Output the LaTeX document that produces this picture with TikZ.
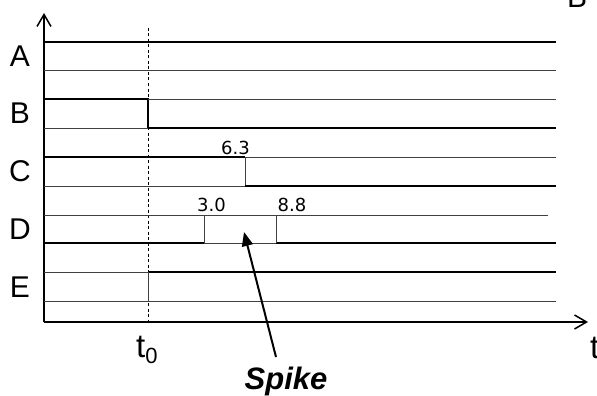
\documentclass[tikz,border=0pt]{standalone}
\usepackage{fontspec}
\setmainfont{Liberation Sans}
\newfontfamily\numfont{DejaVu Sans}
\usepackage{tikz}
\usetikzlibrary{arrows.meta,positioning}

\begin{document}
\begin{tikzpicture}[x=1pt, y=-1pt, >={Straight Barb[length=12pt,width=14pt,line width=1.5pt]}]
    % Styles
    \tikzstyle{hi} = [line width=2pt, black]
    \tikzstyle{lo} = [line width=1pt, black!75]
    \tikzstyle{sig} = [font=\fontsize{30}{32}\selectfont, inner sep=0pt]
    \tikzstyle{tick} = [font=\fontsize{33}{35}\selectfont, inner sep=0pt]
    \tikzstyle{val} = [font=\numfont\fontsize{18}{20}\selectfont, inner sep=0pt]

    \useasboundingbox (0,0) rectangle (597,396);

    % Axes
    \coordinate (origin) at (44, 322);
    \coordinate (ytop) at (44, 13);
    \coordinate (xend) at (588, 322);
    \draw[->, line width=2pt] (origin) -- (ytop);
    \draw[->, line width=2pt] (origin) -- (xend);
    \node[tick, anchor=base west] (tlabel) at (590, 358) {t};
    \node[sig, anchor=center] (cutB) at (577, -3) {B};

    % t0 marker
    \draw[dashed, dash pattern=on 3pt off 2.5pt, line width=0.8pt] (148, 28) -- (148, 322);
    \node[tick, anchor=base west] (tzero) at (136, 357) {t\raisebox{-6pt}{\fontsize{22}{22}\selectfont 0}};

    % Signal labels
    \node[sig] (lblA) at (20, 56) {A};
    \node[sig] (lblB) at (20, 113) {B};
    \node[sig] (lblC) at (20, 171) {C};
    \node[sig] (lblD) at (20, 229) {D};
    \node[sig] (lblE) at (20, 287) {E};

    % A (high)
    \draw[hi] (44, 42.3) -- (556, 42.3);
    \draw[lo] (44, 70.7) -- (556, 70.7);

    % B (falls at t0)
    \draw[hi] (44, 99.3) -- (148, 99.3) -- (148, 128) -- (556, 128);
    \draw[lo] (148, 99.3) -- (556, 99.3);
    \draw[lo] (44, 128) -- (148, 128);

    % C (falls at 6.3)
    \draw[hi] (44, 157) -- (245, 157);
    \draw[lo] (245, 157) -- (556, 157);
    \draw[lo] (44, 186) -- (245, 186);
    \draw[lo] (245, 157) -- (245, 186);
    \draw[hi] (245, 186) -- (556, 186);
    \node[val] (valC) at (235.5, 147.5) {6.3};

    % D (spike between 3.0 and 8.8)
    \draw[lo] (44, 215) -- (548, 215);
    \draw[hi] (44, 243) -- (204, 243);
    \draw[lo] (204, 243) -- (276, 243);
    \draw[hi] (276, 243) -- (556, 243);
    \draw[lo] (204, 215) -- (204, 243);
    \draw[lo] (276, 215) -- (276, 243);
    \node[val] (valD1) at (211.5, 204.5) {3.0};
    \node[val] (valD2) at (292, 204.5) {8.8};

    % E (rises at t0)
    \draw[lo] (44, 272) -- (148, 272);
    \draw[hi] (148, 272) -- (556, 272);
    \draw[lo] (148, 272) -- (148, 301);
    \draw[lo] (44, 301) -- (556, 301);

    % Spike pointer
    \node[font=\fontsize{31}{33}\selectfont\bfseries\itshape, inner sep=0pt] (spike) at (286, 381) {Spike};
    \coordinate (spiketail) at (276, 357);
    \coordinate (spiketip) at (244, 232);
    \draw[-{Triangle[length=14pt,width=11pt]}, line width=2pt] (spiketail) -- (spiketip);
\end{tikzpicture}
\end{document}
